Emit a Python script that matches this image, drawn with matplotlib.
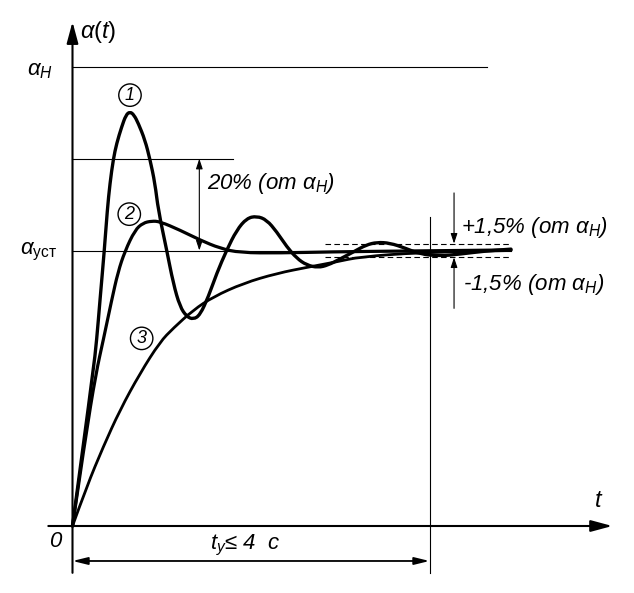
import numpy as np
import matplotlib
matplotlib.use("Agg")
import matplotlib.pyplot as plt
from matplotlib.path import Path
from matplotlib.patches import PathPatch

plt.rcParams['font.family'] = ['Liberation Sans', 'DejaVu Sans']
plt.rcParams['mathtext.fontset'] = 'custom'
plt.rcParams['mathtext.rm'] = 'Liberation Sans'
plt.rcParams['mathtext.it'] = 'Liberation Sans:italic'

# schematic levels (in units of alpha_ust)
a_ust = 1.0
a_n = 1.665
overshoot = 0.20   # of a_n
band = 0.015       # of a_n
t_set = 4.0        # s

# curve 1: strongly oscillating
t1 = [0, 0.230, 0.271, 0.308, 0.356, 0.390, 0.420, 0.457, 0.495, 0.551, 0.599,
      0.644, 0.689, 0.737, 0.812, 0.868, 0.924, 0.961, 1.055, 1.129, 1.204,
      1.280, 1.354, 1.429, 1.522, 1.616, 1.728, 1.840, 1.952, 2.064, 2.176,
      2.288, 2.400, 2.512, 2.624, 2.751, 2.863, 2.997, 3.165, 3.289, 3.412,
      3.557, 3.725, 3.894, 4.118, 4.342, 4.622, 4.913]
a1 = [0, 0.555, 0.675, 0.820, 0.998, 1.147, 1.244, 1.331, 1.389, 1.449, 1.492,
      1.504, 1.492, 1.462, 1.401, 1.331, 1.244, 1.147, 1.002, 0.881, 0.796,
      0.760, 0.750, 0.766, 0.832, 0.917, 1.002, 1.074, 1.117, 1.125, 1.111,
      1.068, 1.014, 0.972, 0.947, 0.938, 0.947, 0.969, 0.998, 1.020, 1.030,
      1.027, 1.009, 0.987, 0.980, 0.987, 0.998, 1.005]

# curve 2: one small overshoot
t2 = [0, 0.140, 0.263, 0.345, 0.439, 0.510, 0.588, 0.700, 0.790, 0.887, 0.980,
      1.204, 1.429, 1.653, 1.877, 2.325, 2.885, 3.669, 4.913]
a2 = [0, 0.312, 0.555, 0.675, 0.820, 0.922, 0.998, 1.074, 1.100, 1.107, 1.105,
      1.074, 1.038, 1.008, 0.992, 0.991, 0.995, 0.998, 1.002]

# curve 3: aperiodic
t3 = [0, 0.159, 0.345, 0.532, 0.756, 0.980, 1.129, 1.354, 1.578, 1.914, 2.288,
      2.661, 2.960, 3.221, 3.894, 4.913]
a3 = [0, 0.143, 0.288, 0.421, 0.554, 0.668, 0.718, 0.784, 0.832, 0.881, 0.917,
      0.941, 0.959, 0.977, 0.993, 1.000]


def smooth_path(x, y):
    # quadratic bezier through midpoints, read points act as control points
    pts = np.column_stack([x, y])
    verts = [pts[0]]
    codes = [Path.MOVETO]
    for i in range(1, len(pts) - 1):
        verts += [pts[i], (pts[i] + pts[i + 1]) / 2]
        codes += [Path.CURVE3, Path.CURVE3]
    verts.append(pts[-1])
    codes.append(Path.LINETO)
    return Path(verts, codes)


fig = plt.figure(figsize=(6.34, 5.93), dpi=100)
ax = fig.add_axes([0, 0, 1, 1])
ax.set_xlim(-0.8123, 6.2913)
ax.set_ylim(-0.2432, 1.9093)
ax.axis('off')

k = 'black'
t_end = 4.913
a_top = a_ust + overshoot * a_n
a_hi = a_ust + band * a_n
a_lo = a_ust - band * a_n

# axes with arrows
ax.annotate('', xy=(6.048, 0), xytext=(-0.271, 0),
            arrowprops=dict(arrowstyle='-|>,head_length=1.3,head_width=0.35',
                            lw=1.5, color=k, shrinkA=0, shrinkB=0))
ax.annotate('', xy=(0, 1.830), xytext=(0, -0.170),
            arrowprops=dict(arrowstyle='-|>,head_length=1.3,head_width=0.35',
                            lw=1.5, color=k, shrinkA=0, shrinkB=0))

# reference levels
ax.plot([0, 4.644], [a_n, a_n], color=k, lw=0.8)
ax.plot([0, 1.798], [a_top, a_top], color=k, lw=0.8)
ax.plot([0, t_end], [a_ust, a_ust], color=k, lw=0.8)
ax.plot([2.829, t_end], [a_hi, a_hi], color=k, lw=0.8, ls=(0, (5, 3)))
ax.plot([2.829, t_end], [a_lo, a_lo], color=k, lw=0.8, ls=(0, (5, 3)))
ax.plot([t_set, t_set], [1.123, -0.170], color=k, lw=0.8)

# curves
for tt, aa, w in [(t1, a1, 2.4), (t2, a2, 2.3), (t3, a3, 2.0)]:
    ax.add_patch(PathPatch(smooth_path(tt, aa), fill=False, ec=k, lw=w,
                           joinstyle='round', capstyle='round'))

# 20% arrow
ax.annotate('', xy=(1.421, a_top), xytext=(1.421, a_ust),
            arrowprops=dict(arrowstyle='<|-|>,head_length=0.6,head_width=0.2',
                            lw=0.8, color=k, shrinkA=0, shrinkB=0))
# band arrows
ax.annotate('', xy=(4.275, a_hi), xytext=(4.275, 1.209),
            arrowprops=dict(arrowstyle='-|>,head_length=0.6,head_width=0.2',
                            lw=0.8, color=k, shrinkA=0, shrinkB=0))
ax.annotate('', xy=(4.275, a_lo), xytext=(4.275, 0.790),
            arrowprops=dict(arrowstyle='-|>,head_length=0.6,head_width=0.2',
                            lw=0.8, color=k, shrinkA=0, shrinkB=0))
# settling time dimension
ax.annotate('', xy=(0, -0.127), xytext=(t_set, -0.127),
            arrowprops=dict(arrowstyle='<|-|>,head_length=0.9,head_width=0.22',
                            lw=1.3, color=k, shrinkA=0, shrinkB=0))

fs = 16
ax.text(0.084, 1.793, r'$\alpha(t)$', fontsize=fs + 1, ha='left', va='center')
ax.text(5.9, 0.09, r'$t$', fontsize=fs + 1, ha='center', va='center')
ax.text(-0.196, -0.058, '0', fontsize=fs, style='italic', ha='center', va='center')
ax.text(-0.364, 1.655, r'$\alpha_{Н}$', fontsize=fs, ha='center', va='center')
ax.text(-0.375, 0.995, r'$\alpha_{\mathrm{уст}}$', fontsize=fs, ha='center', va='center')
ax.text(1.507, 1.245, r'20% (от $\alpha_{Н}$)', fontsize=fs, style='italic',
        ha='left', va='center')
ax.text(4.353, 1.082, r'+1,5% (от $\alpha_{Н}$)', fontsize=fs, style='italic',
        ha='left', va='center')
ax.text(4.375, 0.875, r'-1,5% (от $\alpha_{Н}$)', fontsize=fs, style='italic',
        ha='left', va='center')
ax.text(1.933, -0.069, r'$t_{у}$≤ 4  с', fontsize=fs, style='italic',
        ha='center', va='center')

circ = dict(boxstyle='circle,pad=0.15', fc='white', ec=k, lw=1.0)
for lbl, (x, y) in zip(['1', '2', '3'], [(0.644, 1.564), (0.636, 1.132), (0.775, 0.681)]):
    ax.text(x, y, lbl, fontsize=13, style='italic', ha='center', va='center', bbox=circ)

fig.savefig('out.png', dpi=100)
